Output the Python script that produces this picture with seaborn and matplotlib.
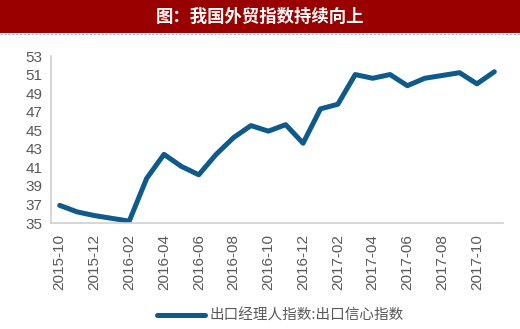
import matplotlib
matplotlib.use("Agg")
import matplotlib.pyplot as plt
import seaborn as sns
import pandas as pd
from matplotlib.lines import Line2D

months = ["2015-10", "2015-11", "2015-12", "2016-01", "2016-02", "2016-03",
          "2016-04", "2016-05", "2016-06", "2016-07", "2016-08", "2016-09",
          "2016-10", "2016-11", "2016-12", "2017-01", "2017-02", "2017-03",
          "2017-04", "2017-05", "2017-06", "2017-07", "2017-08", "2017-09",
          "2017-10", "2017-11"]
export_confidence = [36.9, 36.2, 35.8, 35.5, 35.2, 39.8,
                     42.4, 41.1, 40.2, 42.4, 44.2, 45.5,
                     44.9, 45.6, 43.6, 47.3, 47.8, 51.0,
                     50.6, 51.0, 49.8, 50.6, 50.9, 51.2,
                     50.0, 51.3]
series_name = "出口经理人指数:出口信心指数"
title_text = "图：我国外贸指数持续向上"
y_ticks = list(range(35, 54, 2))

sns.set_theme(style="white")
plt.rcParams["font.family"] = ["Liberation Sans", "DejaVu Sans"]

df = pd.DataFrame({"idx": range(len(months)), "value": export_confidence})

fig = plt.figure(figsize=(5.2, 3.29), dpi=100)
fig.patch.set_facecolor("white")

# title banner
banner = fig.add_axes([0, 1 - 33 / 329, 1, 33 / 329])
banner.set_facecolor("#990000")
banner.set_xticks([]); banner.set_yticks([])
for s in banner.spines.values():
    s.set_visible(False)
banner.text(0.5, 0.5, title_text, color="white", ha="center", va="center",
            fontsize=12.5, fontweight="bold",
            family=["Noto Sans CJK SC", "DejaVu Sans"])
fig.add_artist(Line2D([0, 1], [1 - 34 / 329, 1 - 34 / 329], color="#9DB9E0",
                      lw=0.8, ls=(0, (2, 1.5))))

ax = fig.add_axes([51 / 520, 1 - 223 / 329, (503 - 51) / 520, (223 - 56) / 329])
line_color = "#0E5A8A"
sns.lineplot(data=df, x="idx", y="value", ax=ax, color=line_color, lw=3.6,
             solid_joinstyle="round", solid_capstyle="round", label=series_name,
             legend=False)

ax.set_xlim(-0.5, len(months) - 0.5)
ax.set_ylim(35, 53)
ax.set_yticks(y_ticks)
ax.set_yticklabels([str(v) for v in y_ticks], fontsize=11, color="#595959")
label_pos = list(range(0, len(months), 2))
ax.set_xticks(label_pos)
ax.set_xticklabels([months[i] for i in label_pos], rotation=90, fontsize=11,
                   color="#595959")
ax.set_xticks([i - 0.5 for i in range(0, len(months) + 1, 2)], minor=True)
ax.tick_params(axis="x", which="major", length=0, pad=8)
ax.tick_params(axis="x", which="minor", direction="in", length=4,
               color="#D0D0D0", width=1)
ax.tick_params(axis="y", which="major", direction="in", length=4,
               color="#D0D0D0", width=1, pad=6)
ax.set_xlabel(""); ax.set_ylabel("")
for side in ["top", "right"]:
    ax.spines[side].set_visible(False)
for side in ["left", "bottom"]:
    ax.spines[side].set_color("#D0D0D0")
    ax.spines[side].set_linewidth(1.2)

handle = Line2D([], [], color=line_color, lw=3.6, solid_capstyle="round")
fig.legend([handle], [series_name], loc="center", bbox_to_anchor=(280 / 520, 1 - 316 / 329),
           frameon=False, handlelength=3.3, handletextpad=0.3,
           prop={"family": ["Noto Sans CJK SC", "DejaVu Sans"], "size": 10.5},
           labelcolor="#595959")

fig.savefig("out.png", dpi=100)
